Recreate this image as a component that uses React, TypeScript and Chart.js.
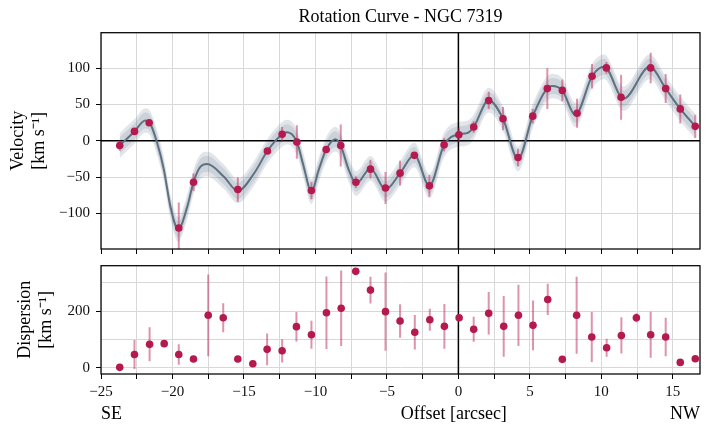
import React, { useEffect, useRef } from 'react';
import { Chart, registerables } from 'chart.js';

Chart.register(...registerables);

const FONT = "'Liberation Serif', 'Times New Roman', serif";

// ---- Velocity measurements ----
const velOffset = [-23.69, -22.66, -21.63, -19.56, -18.53, -15.43, -13.36, -12.33, -11.3, -10.28, -9.25, -8.23, -7.17, -6.15, -5.1, -4.08, -3.08, -2.03, -1.0, 0.03, 1.07, 2.12, 3.12, 4.17, 5.2, 6.22, 7.27, 8.3, 9.35, 10.35, 11.38, 13.45, 14.5, 15.52, 16.57];
const velValue = [-6.5, 13, 25, -120, -57, -67, -14, 9, -1.5, -68.5, -12, -6.5, -57, -39, -65, -44.5, -20, -62, -5.5, 8.5, 19, 55.5, 30.5, -23, 34, 72, 69.5, 38, 89, 100.5, 60, 100.5, 72, 44, 20];
const velError = [7, 4, 4, 35, 12, 17, 4, 10, 23, 12, 4, 29, 8, 13, 22, 17, 4, 15, 9, 10, 8, 12, 16, 12, 10, 28, 15, 20, 17, 8, 31, 21, 20, 20, 16];

// ---- Smooth model curve ----
const curveOffset = [-23.7, -22.66, -21.9, -21.63, -21.07, -20.6, -20.14, -19.6, -18.97, -18.53, -18.04, -17.57, -16.4, -15.43, -14.3, -13.36, -12.33, -11.98, -11.3, -10.82, -10.28, -9.77, -9.25, -8.6, -8.23, -7.67, -7.15, -6.15, -5.1, -4.08, -3.08, -2.03, -1.0, 0.0, 0.6, 1.07, 2.12, 3.12, 4.17, 5.2, 6.55, 7.27, 8.18, 9.35, 10.2, 11.56, 13.38, 14.5, 15.52, 16.57];
const curveValue = [-6.5, 13, 28, 26, -3, -40, -91, -122, -91, -57, -35.6, -32, -49.5, -69, -45, -14, 9, 12, -1.5, -35.6, -70, -40, -12, 2.3, -6.5, -40, -59, -38, -67, -44.5, -19.5, -62, -5.5, 9, 10.6, 19, 56, 30.5, -25, 34, 75.6, 69.4, 36, 89, 102, 58, 102, 72, 44, 20];
const bandInner = 11;
const bandOuter = 17;

// ---- Dispersion measurements ----
const dispOffset = [-23.69, -22.66, -21.6, -20.58, -19.56, -18.53, -17.5, -16.45, -15.43, -14.38, -13.38, -12.33, -11.33, -10.28, -9.23, -8.2, -7.18, -6.15, -5.1, -4.08, -3.05, -2.0, -0.98, 0.05, 1.07, 2.12, 3.17, 4.2, 5.22, 6.25, 7.27, 8.27, 9.33, 10.37, 11.4, 12.45, 13.45, 14.5, 15.52, 16.57];
const dispValue = [1.5, 47, 82.6, 85, 47, 30.7, 185, 176.5, 30.7, 14, 65, 60, 145, 116.5, 194, 210, 340, 274, 198, 165, 125, 169.5, 146, 176.5, 135.5, 192, 146, 185, 149.6, 241, 29.6, 185, 108.4, 70.6, 114, 176.5, 116.5, 108.4, 19, 32];
const dispError = [5, 51, 60, 6, 36, 6, 144, 51, 6, 6, 56, 41, 52, 49, 128, 133, 6, 47, 138, 59, 61, 39, 79, 8, 44, 75, 107, 108, 88, 55, 6, 136, 88, 32, 64, 16, 81, 68, 6, 10];

// ---- Ticks ----
const xTickValues = [-25, -22.5, -20, -17.5, -15, -12.5, -10, -7.5, -5, -2.5, 0, 2.5, 5, 7.5, 10, 12.5, 15];
const velTickValues = [-100, -50, 0, 50, 100];
const dispTickValues = [0, 100, 200, 300];
const dispLabelled = [0, 200];

const POINT = '#b51a4e';
const ERR = 'rgba(190, 40, 90, 0.5)';
const CURVE = '#5e7181';
const BAND = 'rgba(110, 130, 150, 0.2)';
const GRID = '#d8d8d8';
const LABEL_SIZE = 18;

const fmt = (v: number) => (v < 0 ? '\u2212' + Math.abs(v) : String(v));

const overlay = {
  id: 'overlay',
  beforeDatasetDraw(chart: any, args: any, opts: any) {
    const ds: any = chart.data.datasets[args.index];
    const { ctx, chartArea: a, scales } = chart;
    const xs = scales.x;
    const ys = scales.y;
    if (ds.zeroBefore) {
      ctx.save();
      ctx.beginPath();
      ctx.rect(a.left, a.top, a.right - a.left, a.bottom - a.top);
      ctx.clip();
      ctx.strokeStyle = '#000';
      ctx.lineWidth = 1.5;
      if (opts.zeroX) {
        const px = xs.getPixelForValue(0);
        ctx.beginPath();
        ctx.moveTo(px, a.top);
        ctx.lineTo(px, a.bottom);
        ctx.stroke();
      }
      if (opts.zeroY) {
        const py = ys.getPixelForValue(0);
        ctx.beginPath();
        ctx.moveTo(a.left, py);
        ctx.lineTo(a.right, py);
        ctx.stroke();
      }
      ctx.restore();
    }
    if (ds.errors) {
      ctx.save();
      ctx.beginPath();
      ctx.rect(a.left, a.top, a.right - a.left, a.bottom - a.top);
      ctx.clip();
      ctx.strokeStyle = ERR;
      ctx.lineWidth = 2;
      ds.data.forEach((p: any, i: number) => {
        const e = ds.errors[i];
        const px = xs.getPixelForValue(p.x);
        ctx.beginPath();
        ctx.moveTo(px, ys.getPixelForValue(p.y - e));
        ctx.lineTo(px, ys.getPixelForValue(p.y + e));
        ctx.stroke();
      });
      ctx.restore();
    }
  },
  afterDatasetsDraw(chart: any) {
    const { ctx, chartArea: a } = chart;
    ctx.save();
    ctx.strokeStyle = '#000';
    ctx.lineWidth = 1.25;
    ctx.strokeRect(a.left, a.top, a.right - a.left, a.bottom - a.top);
    ctx.restore();
  },
  afterDraw(chart: any, _args: any, opts: any) {
    if (!opts.sideLabels) return;
    const { ctx, chartArea: a } = chart;
    ctx.save();
    ctx.fillStyle = '#000';
    ctx.font = LABEL_SIZE + 'px ' + FONT;
    ctx.textBaseline = 'middle';
    const y = 414.5;
    ctx.textAlign = 'left';
    ctx.fillText('SE', a.left, y);
    ctx.textAlign = 'center';
    ctx.fillText('Offset [arcsec]', a.left + 0.589 * (a.right - a.left), y);
    ctx.textAlign = 'right';
    ctx.fillText('NW', a.right, y);
    ctx.restore();
  },
};

function xScale(showLabels: boolean, height: number) {
  return {
    type: 'linear',
    min: -25,
    max: 16.9,
    afterBuildTicks: (s: any) => {
      s.ticks = xTickValues.map((v) => ({ value: v }));
    },
    afterFit: (s: any) => {
      s.height = height;
    },
    border: { display: false },
    grid: { color: GRID, lineWidth: 1, tickLength: 5, tickColor: '#000', tickWidth: 1 },
    ticks: {
      autoSkip: false,
      maxRotation: 0,
      minRotation: 0,
      padding: 3.7,
      color: '#111',
      font: { family: FONT, size: 15 },
      callback: (v: number) => (showLabels && v % 5 === 0 ? fmt(v) : ''),
    },
  };
}

function topConfig(): any {
  const pts = velOffset.map((x, i) => ({ x, y: velValue[i] }));
  const line = curveOffset.map((x, i) => ({ x, y: curveValue[i] }));
  const shift = (d: number) => curveOffset.map((x, i) => ({ x, y: curveValue[i] + d }));
  const bandDs = (data: any, fill: any) => ({
    data,
    fill,
    backgroundColor: BAND,
    borderColor: 'transparent',
    borderWidth: 0,
    pointRadius: 0,
    cubicInterpolationMode: 'monotone',
  });
  return {
    type: 'line',
    data: {
      datasets: [
        {
          data: pts,
          errors: velError,
          showLine: false,
          pointRadius: 3.8,
          pointHoverRadius: 3.8,
          pointBackgroundColor: POINT,
          pointBorderWidth: 0,
        },
        {
          data: line,
          zeroBefore: true,
          borderColor: CURVE,
          borderWidth: 2,
          pointRadius: 0,
          fill: false,
          cubicInterpolationMode: 'monotone',
        },
        bandDs(shift(bandInner), '+1'),
        bandDs(shift(-bandInner), false),
        bandDs(shift(bandOuter), '+1'),
        bandDs(shift(-bandOuter), false),
      ],
    },
    options: {
      responsive: false,
      animation: false,
      devicePixelRatio: 1,
      events: [],
      layout: { padding: { left: 0, right: 13, top: 0, bottom: 176 } },
      plugins: {
        legend: { display: false },
        tooltip: { enabled: false },
        title: {
          display: true,
          fullSize: false,
          text: 'Rotation Curve - NGC 7319',
          color: '#000',
          font: { family: FONT, size: LABEL_SIZE, weight: 'normal', lineHeight: 1.2 },
          padding: { top: 6.7, bottom: 4.4 },
        },
        overlay: { zeroX: true, zeroY: true },
      },
      scales: {
        x: xScale(false, 8),
        y: {
          type: 'linear',
          min: -149,
          max: 149,
          afterBuildTicks: (s: any) => {
            s.ticks = velTickValues.map((v) => ({ value: v }));
          },
          afterFit: (s: any) => {
            s.width = 101;
          },
          border: { display: false },
          grid: { color: GRID, lineWidth: 1, tickLength: 5, tickColor: '#000', tickWidth: 1 },
          ticks: {
            padding: 6,
            color: '#111',
            font: { family: FONT, size: 15 },
            callback: (v: number) => fmt(v),
          },
          title: {
            display: true,
            text: ['Velocity', '[km s\u207B\u00B9]'],
            color: '#000',
            font: { family: FONT, size: LABEL_SIZE, lineHeight: 1.15 },
            padding: { top: 8.2, bottom: 0 },
          },
        },
      },
    },
    plugins: [overlay],
  };
}

function bottomConfig(): any {
  const pts = dispOffset.map((x, i) => ({ x, y: dispValue[i] }));
  return {
    type: 'line',
    data: {
      datasets: [
        {
          data: pts,
          errors: dispError,
          zeroBefore: true,
          showLine: false,
          pointRadius: 3.8,
          pointHoverRadius: 3.8,
          pointBackgroundColor: POINT,
          pointBorderWidth: 0,
        },
      ],
    },
    options: {
      responsive: false,
      animation: false,
      devicePixelRatio: 1,
      events: [],
      layout: { padding: { left: 0, right: 13, top: 265.7, bottom: 0 } },
      plugins: {
        legend: { display: false },
        tooltip: { enabled: false },
        title: { display: false },
        overlay: { zeroX: true, zeroY: false, sideLabels: true },
      },
      scales: {
        x: xScale(true, 59),
        y: {
          type: 'linear',
          min: -22,
          max: 360,
          afterBuildTicks: (s: any) => {
            s.ticks = dispTickValues.map((v) => ({ value: v }));
          },
          afterFit: (s: any) => {
            s.width = 101;
          },
          border: { display: false },
          grid: {
            color: GRID,
            lineWidth: 1,
            tickLength: 5,
            tickWidth: 1,
            tickColor: (c: any) =>
              c.tick && dispLabelled.includes(c.tick.value) ? '#000' : 'rgba(0,0,0,0)',
          },
          ticks: {
            padding: 6,
            color: '#111',
            font: { family: FONT, size: 15 },
            callback: (v: number) => (dispLabelled.includes(v) ? fmt(v) : ''),
          },
          title: {
            display: true,
            text: ['Dispersion', '[km s\u207B\u00B9]'],
            color: '#000',
            font: { family: FONT, size: LABEL_SIZE, lineHeight: 1.15 },
            padding: { top: 15.2, bottom: 0 },
          },
        },
      },
    },
    plugins: [overlay],
  };
}

export default function App() {
  const topRef = useRef<HTMLCanvasElement>(null);
  const botRef = useRef<HTMLCanvasElement>(null);
  useEffect(() => {
    const c1 = new Chart(topRef.current as HTMLCanvasElement, topConfig());
    const c2 = new Chart(botRef.current as HTMLCanvasElement, bottomConfig());
    return () => {
      c1.destroy();
      c2.destroy();
    };
  }, []);
  return (
    <div style={{ position: 'absolute', left: 0, top: 0, width: 713, height: 433, background: '#fff' }}>
      <canvas ref={topRef} width={713} height={433} style={{ position: 'absolute', left: 0, top: 0 }} />
      <canvas ref={botRef} width={713} height={433} style={{ position: 'absolute', left: 0, top: 0 }} />
    </div>
  );
}
